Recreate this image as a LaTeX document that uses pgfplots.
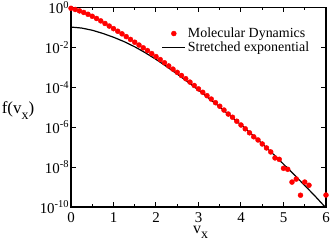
\documentclass[border=0pt]{standalone}
\usepackage{fontspec}
\setmainfont{Liberation Serif}
\usepackage{pgfplots}
\pgfplotsset{compat=1.18}
\usepackage{pgfplotstable}

\pgfplotsset{
  mdleg/.style={legend image code/.code={\draw[##1] plot coordinates {(11.5bp,0bp)};}},
  fitleg/.style={legend image code/.code={\draw[##1] (0bp,0bp) -- (23bp,0bp);}},
}

% Molecular dynamics: x and log10 f
\pgfplotstableread{
x ly
0.0 -0.04
0.1 -0.10
0.2 -0.17
0.3 -0.25
0.4 -0.34
0.5 -0.44
0.6 -0.55
0.7 -0.67
0.8 -0.80
0.9 -0.93
1.0 -1.06
1.1 -1.19
1.2 -1.32
1.3 -1.46
1.4 -1.60
1.5 -1.74
1.6 -1.88
1.7 -2.02
1.8 -2.16
1.9 -2.31
2.0 -2.46
2.1 -2.61
2.2 -2.77
2.3 -2.93
2.4 -3.09
2.5 -3.25
2.6 -3.41
2.7 -3.57
2.8 -3.74
2.9 -3.91
3.0 -4.08
3.1 -4.25
3.2 -4.42
3.3 -4.59
3.4 -4.77
3.5 -4.95
3.6 -5.14
3.7 -5.34
3.8 -5.50
3.9 -5.70
4.0 -5.89
4.1 -6.08
4.2 -6.28
4.3 -6.48
4.4 -6.64
4.5 -6.84
4.6 -7.04
4.7 -7.24
4.8 -7.54
4.9 -7.61
5.0 -8.06
5.1 -8.11
5.2 -8.75
5.3 -8.60
5.4 -9.41
5.5 -8.75
5.6 -8.91
6.0 -9.40
}\mdtable

% Stretched exponential: x and log10 f
\pgfplotstableread{
x ly
0.00 -0.98
0.25 -1.03
0.50 -1.14
0.75 -1.30
1.00 -1.49
1.25 -1.71
1.50 -1.97
1.75 -2.27
2.00 -2.60
2.25 -2.96
2.50 -3.34
2.75 -3.73
3.00 -4.14
3.25 -4.56
3.50 -4.99
3.75 -5.43
4.00 -5.88
4.25 -6.35
4.50 -6.83
4.75 -7.33
5.00 -7.85
5.25 -8.38
5.50 -8.92
5.75 -9.47
5.98 -10.00
}\fittable

\begin{document}
\fontsize{14}{16}\selectfont
\begin{tikzpicture}
\begin{axis}[
  scale only axis, width=255bp, height=199.5bp,
  ymode=log, xmin=0, xmax=6, ymin=1e-10, ymax=1,
  xtick={0,1,2,3,4,5,6}, minor xtick={0.5,1.5,2.5,3.5,4.5,5.5},
  ytick={1e-10,1e-8,1e-6,1e-4,1e-2,1},
  yticklabels={10\textsuperscript{-10},10\textsuperscript{-8},10\textsuperscript{-6},10\textsuperscript{-4},10\textsuperscript{-2},10\textsuperscript{0}},
  yminorticks=false,
  tick align=inside, major tick length=5bp, minor tick length=3bp,
  axis line style={line width=1.2bp},
  every tick/.style={black, line width=1bp},
  /pgf/number format/assume math mode=true,
  tick label style={font=\fontsize{15}{17}\selectfont},
  xticklabel style={yshift=-1bp},
  yticklabel style={xshift=3bp},
  clip=false,
  xlabel={v\raisebox{-5bp}{\fontsize{14}{14}\selectfont x}},
  ylabel={f(v\raisebox{-6bp}{\fontsize{14}{14}\selectfont x})},
  every axis x label/.style={at={(rel axis cs:0.508,0)}, anchor=base, yshift=-26bp, font=\fontsize{16}{18}\selectfont},
  every axis y label/.style={at={(rel axis cs:0,0.471)}, anchor=base, xshift=-53bp, font=\fontsize{17}{19}\selectfont},
  legend style={draw=none, fill=none, inner sep=0pt, at={(rel axis cs:0.355,0.91)}, anchor=north west,
    font=\fontsize{14}{16}\selectfont, cells={anchor=west}, row sep=-2bp},
]
\addplot[only marks, mark=*, mark size=2.5bp, color=red, mdleg]
  table[x=x, y expr=10^(\thisrow{ly})] {\mdtable};
\addlegendentry{Molecular Dynamics}
\addplot[black, line width=1.2bp, no marks, fitleg]
  table[x=x, y expr=10^(\thisrow{ly})] {\fittable};
\addlegendentry{Stretched exponential}
\end{axis}
\pgfresetboundingbox
\path[use as bounding box] (-71bp,-35bp) rectangle (261bp,207bp);
\end{tikzpicture}
\end{document}
